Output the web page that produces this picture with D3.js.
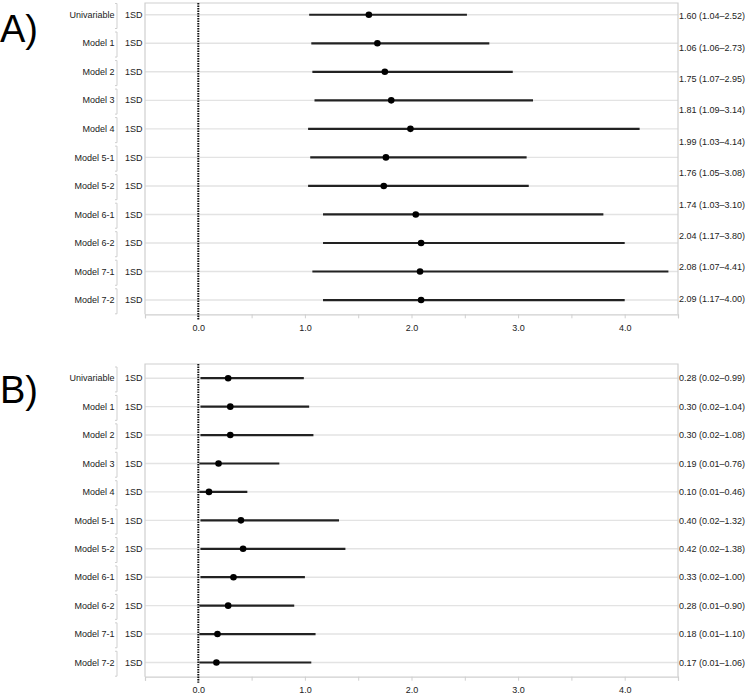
<!DOCTYPE html>
<html>
<head>
<meta charset="utf-8">
<script src="https://cdn.jsdelivr.net/npm/d3@7"></script>
<style>
  html, body { margin: 0; padding: 0; background: #fff; }
  svg { display: block; font-family: "Liberation Sans", Arial, Helvetica, sans-serif; }
</style>
</head>
<body>
<svg id="chart" width="747" height="695"></svg>
<script>
// ---------- data ----------
const rowLabels = ["Univariable", "Model 1", "Model 2", "Model 3", "Model 4", "Model 5-1",
  "Model 5-2", "Model 6-1", "Model 6-2", "Model 7-1", "Model 7-2"];
const unitLabel = "1SD";

const aEst = [1.60, 1.68, 1.75, 1.81, 1.99, 1.76, 1.74, 2.04, 2.09, 2.08, 2.09];
const aLo  = [1.04, 1.06, 1.07, 1.09, 1.03, 1.05, 1.03, 1.17, 1.17, 1.07, 1.17];
const aHi  = [2.52, 2.73, 2.95, 3.14, 4.14, 3.08, 3.10, 3.80, 4.00, 4.41, 4.00];
const aText = ["1.60 (1.04\u20132.52)", "1.06 (1.06\u20132.73)", "1.75 (1.07\u20132.95)",
  "1.81 (1.09\u20133.14)", "1.99 (1.03\u20134.14)", "1.76 (1.05\u20133.08)",
  "1.74 (1.03\u20133.10)", "2.04 (1.17\u20133.80)", "2.08 (1.07\u20134.41)",
  "2.09 (1.17\u20134.00)"];

const bEst = [0.28, 0.30, 0.30, 0.19, 0.10, 0.40, 0.42, 0.33, 0.28, 0.18, 0.17];
const bLo  = [0.02, 0.02, 0.02, 0.01, 0.01, 0.02, 0.02, 0.02, 0.01, 0.01, 0.01];
const bHi  = [0.99, 1.04, 1.08, 0.76, 0.46, 1.32, 1.38, 1.00, 0.90, 1.10, 1.06];
const bText = ["0.28 (0.02\u20130.99)", "0.30 (0.02\u20131.04)", "0.30 (0.02\u20131.08)",
  "0.19 (0.01\u20130.76)", "0.10 (0.01\u20130.46)", "0.40 (0.02\u20131.32)",
  "0.42 (0.02\u20131.38)", "0.33 (0.02\u20131.00)", "0.28 (0.01\u20130.90)",
  "0.18 (0.01\u20131.10)", "0.17 (0.01\u20131.06)"];

const xDomain = [-0.5, 4.5];
const majorTicks = [0, 1, 2, 3, 4];
const minorTicks = [-0.5, 0.5, 1.5, 2.5, 3.5, 4.5];
const panelTitles = ["A)", "B)"];

// ---------- drawing ----------
const svg = d3.select("#chart");
svg.append("rect").attr("width", 747).attr("height", 695).attr("fill", "#fff");

const x = d3.scaleLinear().domain(xDomain).range([145, 678]);
const GRID = "#e3e3e3", FRAME = "#cfcfcf", TEXT = "#222";

function drawPanel(cfg) {
  const g = svg.append("g");
  const y = d3.scaleBand().domain(rowLabels).range([cfg.bandTop, cfg.bottom]).paddingInner(0).paddingOuter(0);
  const yLab = d3.scaleBand().domain(d3.range(cfg.texts.length)).range([cfg.bandTop, cfg.bottom]);
  const cy = d => y(d) + y.bandwidth() / 2;

  // panel title
  g.append("text").attr("x", 0).attr("y", cfg.titleY)
    .attr("font-size", 38).attr("fill", "#000").text(cfg.title);

  // gridlines
  g.selectAll("line.grid").data(rowLabels).join("line")
    .attr("x1", x.range()[0]).attr("x2", x.range()[1])
    .attr("y1", cy).attr("y2", cy)
    .attr("stroke", GRID).attr("stroke-width", 1.4);

  // frame
  g.append("path")
    .attr("d", `M${x.range()[0]},${cfg.bottom}V${cfg.frameTop}H${x.range()[1]}V${cfg.bottom}`)
    .attr("fill", "none").attr("stroke", FRAME).attr("stroke-width", 1.2);

  // x axis
  const axis = d3.axisBottom(x).tickValues(majorTicks).tickSize(4).tickFormat(d3.format(".1f"));
  const ax = g.append("g").attr("transform", `translate(0,${cfg.bottom})`).call(axis);
  ax.select(".domain").attr("stroke", FRAME).attr("stroke-width", 1.2);
  ax.selectAll(".tick line").attr("stroke", FRAME);
  ax.selectAll(".tick text").attr("fill", TEXT).attr("font-size", 9)
    .attr("font-family", "'Liberation Sans', Arial, sans-serif").attr("dy", "1.05em");
  const axMinor = d3.axisBottom(x).tickValues(minorTicks).tickSize(4).tickFormat("");
  const ax2 = g.append("g").attr("transform", `translate(0,${cfg.bottom})`).call(axMinor);
  ax2.select(".domain").remove();
  ax2.selectAll(".tick line").attr("stroke", FRAME);

  // left labels
  g.selectAll("text.row").data(rowLabels).join("text")
    .attr("x", 114.5).attr("y", cy).attr("dy", "0.35em")
    .attr("text-anchor", "end").attr("font-size", 9).attr("fill", TEXT).text(d => d);
  g.selectAll("text.unit").data(rowLabels).join("text")
    .attr("x", 142.5).attr("y", cy).attr("dy", "0.35em")
    .attr("text-anchor", "end").attr("font-size", 9).attr("fill", TEXT).text(unitLabel);
  // brackets
  g.selectAll("path.br").data(rowLabels).join("path")
    .attr("d", d => {
      const t = y(d) + 3, b = y(d) + y.bandwidth() - 0.5;
      return `M115,${t}H117V${b}H115`;
    })
    .attr("fill", "none").attr("stroke", "#cfcfcf").attr("stroke-width", 1);

  // zero reference line
  g.append("line").attr("x1", x(0)).attr("x2", x(0))
    .attr("y1", cfg.frameTop).attr("y2", cfg.bottom + 6)
    .attr("stroke", "#111").attr("stroke-width", 2).attr("stroke-dasharray", "1.5,1");

  // CI lines & points
  g.selectAll("line.ci").data(rowLabels).join("line")
    .attr("x1", (d, i) => x(cfg.lo[i])).attr("x2", (d, i) => x(cfg.hi[i]))
    .attr("y1", cy).attr("y2", cy)
    .attr("stroke", "#222").attr("stroke-width", 2.2);
  g.selectAll("circle.pt").data(rowLabels).join("circle")
    .attr("cx", (d, i) => x(cfg.est[i])).attr("cy", cy).attr("r", 3.3)
    .attr("fill", "#000");

  // right labels
  g.selectAll("text.ci").data(cfg.texts).join("text")
    .attr("x", 679).attr("y", (d, i) => yLab(i) + yLab.bandwidth() / 2).attr("dy", "0.35em")
    .attr("font-size", 9).attr("fill", TEXT).text(d => d);
}

drawPanel({ title: panelTitles[0], titleY: 41.5, frameTop: 3, bandTop: 0.5, bottom: 314.3,
  est: aEst, lo: aLo, hi: aHi, texts: aText });
drawPanel({ title: panelTitles[1], titleY: 402.5, frameTop: 364, bandTop: 364, bottom: 676.7,
  est: bEst, lo: bLo, hi: bHi, texts: bText });
</script>
</body>
</html>
